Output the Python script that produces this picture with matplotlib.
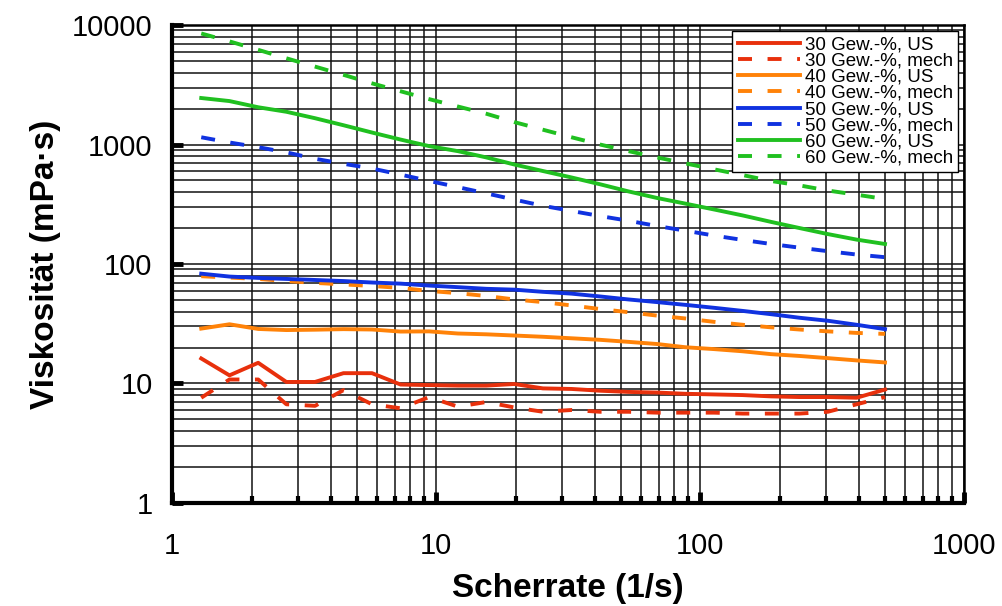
import matplotlib
matplotlib.use("Agg")
import matplotlib.pyplot as plt
from matplotlib.ticker import LogLocator, NullFormatter, FixedLocator, FixedFormatter

plt.rcParams['font.family'] = ['Liberation Sans', 'DejaVu Sans']

# shear rate (1/s)
shear_rate = [1.29, 1.65, 2.12, 2.71, 3.48, 4.46, 5.72, 7.34, 9.41, 12.1, 15.5, 19.8,
              25.4, 32.6, 41.8, 53.6, 68.7, 88.1, 113, 145, 186, 238, 305, 392, 502]

# viscosity (mPa s)
visc_30_us = [16.2, 11.7, 14.9, 10.3, 10.3, 12.2, 12.2, 9.8, 9.7, 9.6, 9.6, 9.9,
              9.1, 9.0, 8.7, 8.5, 8.4, 8.2, 8.1, 8.0, 7.8, 7.7, 7.7, 7.6, 8.9]
visc_30_mech = [7.6, 10.8, 10.8, 6.7, 6.5, 8.8, 6.7, 6.2, 7.7, 6.4, 7.0, 6.3,
                5.8, 6.0, 5.8, 5.8, 5.7, 5.7, 5.7, 5.6, 5.6, 5.6, 5.8, 6.7, 7.7]
visc_40_us = [28.8, 31.3, 28.6, 28.0, 28.2, 28.5, 28.3, 27.2, 27.3, 26.2, 25.8, 25.2,
              24.6, 23.9, 23.2, 22.3, 21.4, 20.1, 19.4, 18.6, 17.6, 17.0, 16.3, 15.6, 15.0]
visc_40_mech = [79, 77, 75, 72, 69.5, 67.5, 65.5, 63, 59.5, 57, 54, 50.5,
                48, 45, 42, 39.5, 37, 35, 32.8, 31, 29.5, 28.3, 27.3, 26.5, 26]
visc_50_us = [83, 78.5, 76.5, 75, 73.5, 72, 70, 68.5, 66, 64, 62, 61,
              58.5, 56.5, 53.5, 50.5, 48, 45.5, 43, 40.5, 38, 35.5, 33.5, 31, 28.5]
visc_50_mech = [1150, 1040, 950, 860, 760, 690, 630, 560, 496, 440, 390, 346,
                307, 278, 252, 230, 208, 190, 173, 159, 147, 137, 128, 120, 114]
visc_60_us = [2450, 2310, 2050, 1880, 1660, 1450, 1260, 1100, 970, 880, 780, 680,
              600, 530, 465, 405, 357, 320, 286, 255, 225, 200, 178, 160, 147]
visc_60_mech = [8500, 7300, 6200, 5270, 4490, 3830, 3250, 2790, 2400, 2080, 1810, 1540,
                1330, 1150, 1000, 880, 780, 695, 620, 555, 495, 455, 412, 380, 350]

series = [
    ("30 Gew.-%, US", visc_30_us, "#e8300c", "-"),
    ("30 Gew.-%, mech", visc_30_mech, "#e8300c", "--"),
    ("40 Gew.-%, US", visc_40_us, "#ff8208", "-"),
    ("40 Gew.-%, mech", visc_40_mech, "#ff8208", "--"),
    ("50 Gew.-%, US", visc_50_us, "#1032e0", "-"),
    ("50 Gew.-%, mech", visc_50_mech, "#1032e0", "--"),
    ("60 Gew.-%, US", visc_60_us, "#20c020", "-"),
    ("60 Gew.-%, mech", visc_60_mech, "#20c020", "--"),
]

fig = plt.figure(figsize=(10.02, 6.06), dpi=100)
ax = fig.add_axes([0.1717, 0.170, 0.7904, 0.7887])

for label, vals, color, ls in series:
    if ls == "--":
        ax.plot(shear_rate, vals, color=color, lw=2.8, label=label,
                linestyle=(0, (3.6, 4.0)), zorder=3)
    else:
        ax.plot(shear_rate, vals, color=color, lw=2.8, label=label, zorder=3)

ax.set_xscale("log")
ax.set_yscale("log")
ax.set_xlim(1, 1000)
ax.set_ylim(1, 10000)

ax.xaxis.set_major_locator(FixedLocator([1, 10, 100, 1000]))
ax.xaxis.set_major_formatter(FixedFormatter(["1", "10", "100", "1000"]))
ax.yaxis.set_major_locator(FixedLocator([1, 10, 100, 1000, 10000]))
ax.yaxis.set_major_formatter(FixedFormatter(["1", "10", "100", "1000", "10000"]))
ax.xaxis.set_minor_locator(LogLocator(base=10, subs=range(2, 10)))
ax.yaxis.set_minor_locator(LogLocator(base=10, subs=range(2, 10)))
ax.xaxis.set_minor_formatter(NullFormatter())
ax.yaxis.set_minor_formatter(NullFormatter())

ax.grid(True, which="both", color="#111111", linewidth=1.1, zorder=1)
ax.set_axisbelow(True)

ax.tick_params(which="major", direction="in", length=8, width=3.5, labelsize=21,
               top=False, right=False)
ax.tick_params(axis="x", which="minor", direction="in", length=5, width=3,
               top=False)
ax.tick_params(axis="y", which="minor", length=0, right=False)
ax.tick_params(axis="x", which="major", pad=21)
ax.tick_params(axis="y", which="major", pad=14)

for side in ["left", "bottom"]:
    ax.spines[side].set_linewidth(3)
for side in ["top", "right"]:
    ax.spines[side].set_linewidth(1.8)

ax.set_xlabel("Scherrate (1/s)", fontsize=24, fontweight="bold", labelpad=9)
ax.set_ylabel("Viskosität (mPa·s)", fontsize=24, fontweight="bold", labelpad=8)

leg = ax.legend(loc="upper right", fontsize=13.5, handlelength=3.3, handletextpad=0.25,
                labelspacing=-0.05, borderpad=0.3, borderaxespad=0.3, fancybox=False,
                framealpha=1, edgecolor="black")
leg.get_frame().set_linewidth(1.0)

fig.savefig("out.png", dpi=100)
